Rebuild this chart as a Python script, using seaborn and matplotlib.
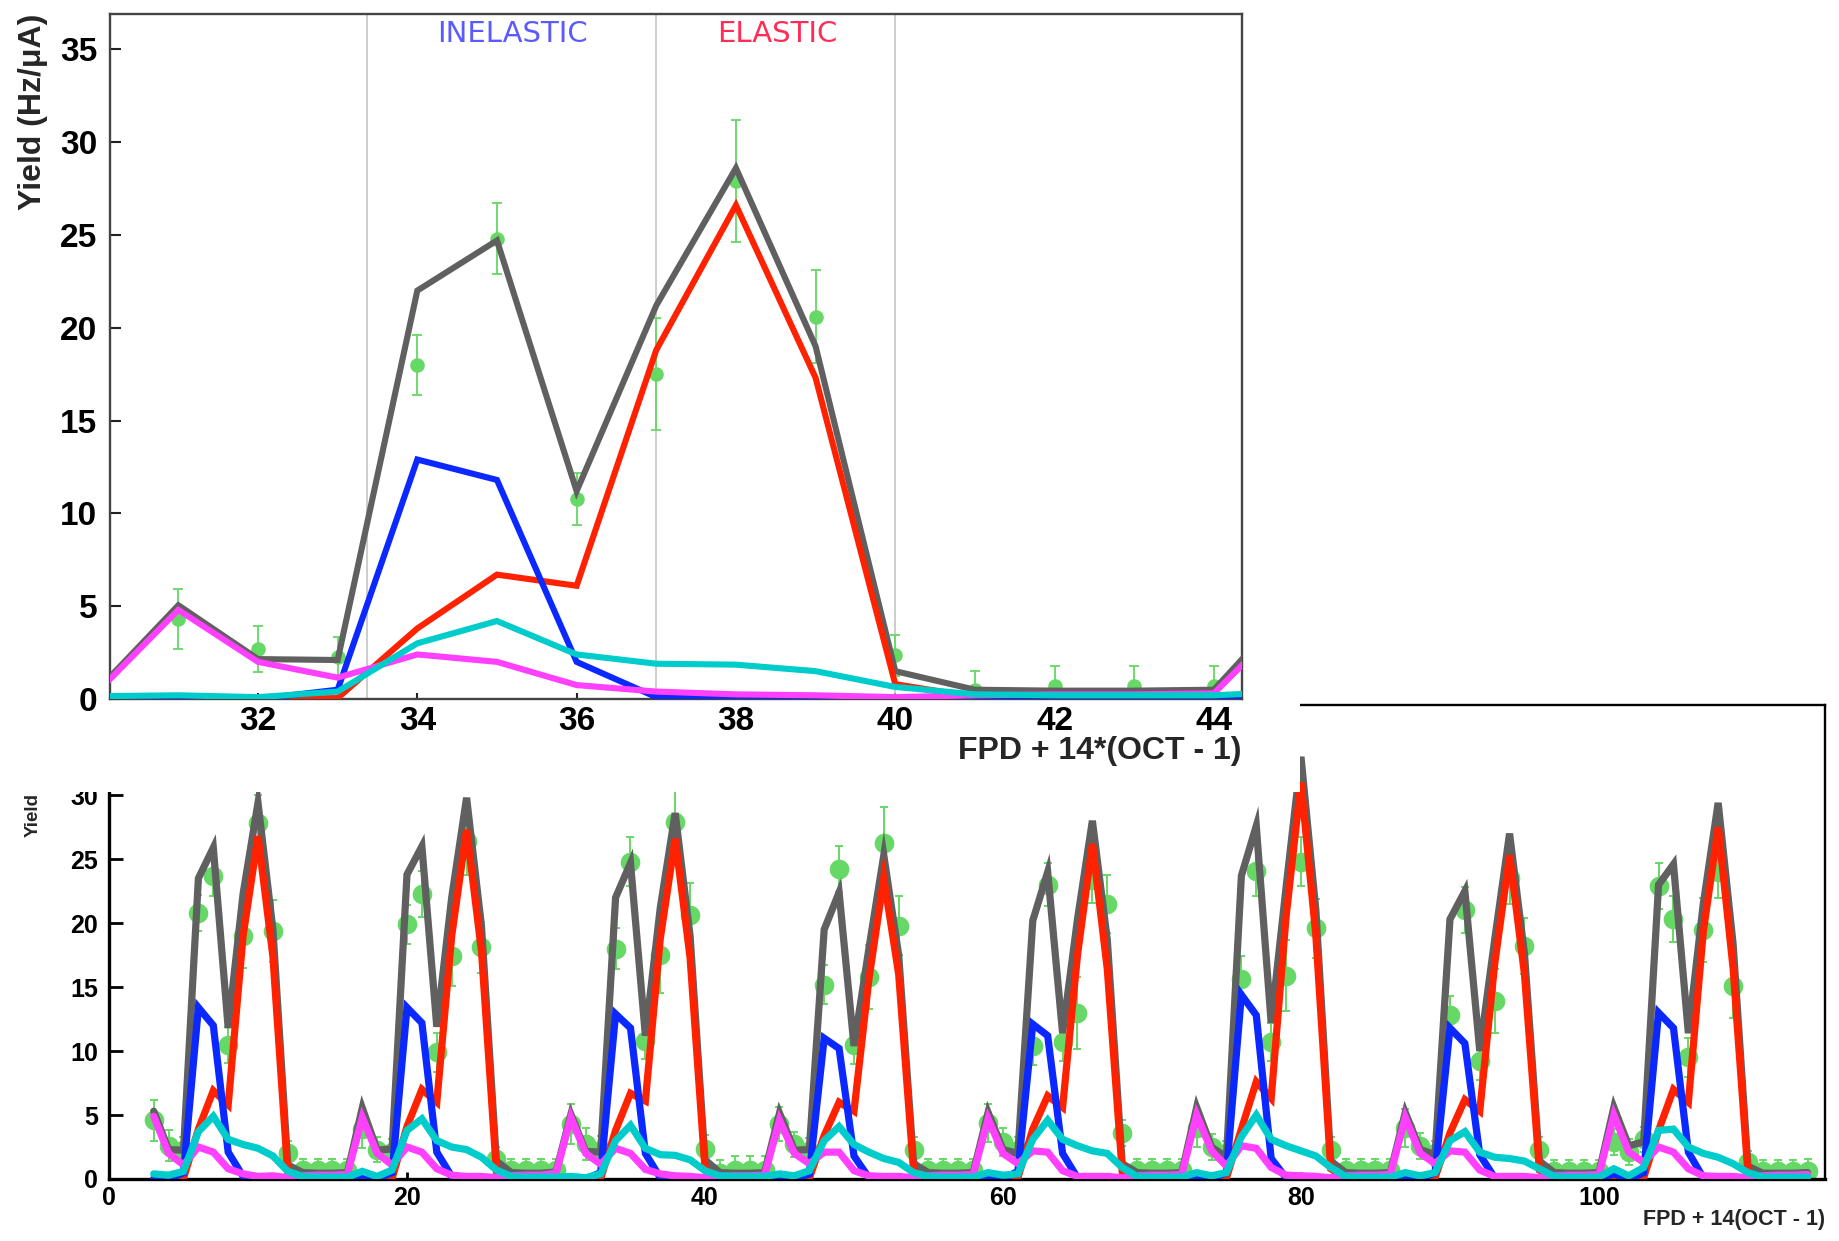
import matplotlib
matplotlib.use("Agg")
import matplotlib.pyplot as plt
import seaborn as sns
import pandas as pd
from matplotlib.patches import Rectangle

# ---------------- data ----------------
FPD = [3, 4, 5, 6, 7, 8, 9, 10, 11, 12, 13, 14, 15, 16]
OCTANTS = [1, 2, 3, 4, 5, 6, 7, 8]

# Total simulation (grey)
TOTAL = [
    [5.3, 2.3, 2.25, 23.5, 25.9, 11.8, 22.3, 29.4, 19.5, 1.1, 0.5, 0.45, 0.45, 0.5],
    [5.55, 2.25, 2.35, 23.8, 26.0, 11.9, 22.0, 29.8, 19.75, 1.4, 0.5, 0.45, 0.45, 0.55],
    [5.05, 2.15, 2.1, 22.0, 24.7, 11.2, 21.2, 28.6, 19.0, 1.5, 0.5, 0.45, 0.45, 0.5],
    [5.15, 2.25, 2.3, 19.5, 22.4, 10.4, 18.0, 25.3, 17.5, 1.2, 0.5, 0.45, 0.45, 0.5],
    [5.2, 2.3, 2.0, 20.2, 24.0, 11.4, 20.3, 28.0, 18.7, 1.2, 0.5, 0.45, 0.45, 0.5],
    [5.6, 2.5, 1.7, 23.7, 27.6, 12.2, 22.8, 33.0, 21.0, 1.4, 0.5, 0.45, 0.45, 0.5],
    [5.2, 2.3, 1.9, 20.3, 22.5, 10.0, 18.7, 27.0, 17.6, 1.4, 0.5, 0.45, 0.45, 0.5],
    [5.6, 2.6, 2.9, 23.0, 24.6, 11.4, 21.5, 29.4, 18.4, 1.0, 0.45, 0.45, 0.45, 0.5],
]
# Elastic (red)
ELASTIC = [
    [0.0, 0.0, 0.05, 3.9, 6.9, 5.8, 19.0, 26.8, 17.4, 0.4, 0.05, 0.0, 0.0, 0.0],
    [0.0, 0.0, 0.05, 4.1, 7.0, 6.0, 19.0, 27.3, 17.8, 0.6, 0.05, 0.0, 0.0, 0.0],
    [0.0, 0.0, 0.05, 3.8, 6.7, 6.1, 18.8, 26.6, 17.3, 0.8, 0.1, 0.0, 0.0, 0.0],
    [0.0, 0.0, 0.05, 3.4, 6.0, 5.3, 15.6, 23.5, 16.0, 0.6, 0.05, 0.0, 0.0, 0.0],
    [0.0, 0.0, 0.1, 3.9, 6.5, 5.6, 17.5, 26.2, 16.4, 0.6, 0.05, 0.0, 0.0, 0.0],
    [0.0, 0.0, 0.1, 3.9, 7.6, 6.3, 20.5, 31.0, 19.0, 0.8, 0.05, 0.0, 0.0, 0.0],
    [0.0, 0.0, 0.1, 3.6, 6.2, 5.3, 16.8, 25.3, 16.0, 0.7, 0.05, 0.0, 0.0, 0.0],
    [0.0, 0.0, 0.1, 3.8, 7.0, 6.0, 19.3, 27.5, 16.5, 0.4, 0.05, 0.0, 0.0, 0.0],
]
# Inelastic (blue)
INELASTIC = [
    [0.0, 0.0, 0.5, 13.4, 12.0, 2.1, 0.2, 0.05, 0.05, 0.0, 0.0, 0.0, 0.0, 0.0],
    [0.15, 0.05, 0.5, 13.4, 12.2, 2.1, 0.2, 0.05, 0.05, 0.0, 0.0, 0.0, 0.0, 0.0],
    [0.05, 0.0, 0.5, 12.9, 11.8, 2.0, 0.1, 0.0, 0.05, 0.05, 0.0, 0.0, 0.0, 0.0],
    [0.15, 0.0, 0.4, 11.0, 10.2, 1.8, 0.1, 0.05, 0.05, 0.0, 0.0, 0.0, 0.0, 0.0],
    [0.1, 0.0, 0.6, 12.1, 11.2, 2.0, 0.1, 0.05, 0.05, 0.0, 0.0, 0.0, 0.0, 0.0],
    [0.15, 0.0, 0.5, 14.4, 12.8, 1.6, 0.1, 0.05, 0.05, 0.0, 0.0, 0.0, 0.0, 0.0],
    [0.1, 0.0, 0.5, 11.8, 10.6, 1.9, 0.1, 0.05, 0.05, 0.0, 0.0, 0.0, 0.0, 0.0],
    [0.4, 0.0, 0.5, 13.0, 11.8, 2.1, 0.1, 0.05, 0.05, 0.0, 0.0, 0.0, 0.0, 0.0],
]
# Magenta component
MAGENTA = [
    [4.9, 2.0, 1.1, 2.5, 2.1, 0.8, 0.4, 0.2, 0.25, 0.1, 0.25, 0.3, 0.3, 0.35],
    [4.8, 2.0, 1.1, 2.5, 2.1, 0.8, 0.3, 0.2, 0.2, 0.1, 0.25, 0.3, 0.3, 0.45],
    [4.8, 2.0, 1.15, 2.4, 2.0, 0.75, 0.4, 0.25, 0.2, 0.1, 0.2, 0.25, 0.25, 0.3],
    [4.6, 2.0, 1.2, 2.1, 2.1, 0.65, 0.25, 0.2, 0.2, 0.1, 0.25, 0.3, 0.3, 0.35],
    [4.7, 2.0, 1.2, 2.2, 2.1, 0.65, 0.2, 0.2, 0.2, 0.1, 0.25, 0.3, 0.3, 0.35],
    [5.0, 2.2, 1.0, 2.6, 2.4, 0.9, 0.3, 0.25, 0.2, 0.1, 0.25, 0.3, 0.3, 0.35],
    [4.8, 2.0, 1.2, 2.2, 2.1, 0.7, 0.2, 0.2, 0.2, 0.1, 0.25, 0.3, 0.3, 0.35],
    [5.0, 2.1, 1.3, 2.5, 2.1, 0.8, 0.25, 0.2, 0.2, 0.1, 0.25, 0.3, 0.3, 0.35],
]
# Cyan component
CYAN = [
    [0.4, 0.3, 0.6, 3.7, 4.9, 3.1, 2.7, 2.4, 1.8, 0.6, 0.2, 0.15, 0.15, 0.15],
    [0.6, 0.2, 0.7, 3.8, 4.7, 3.0, 2.5, 2.3, 1.7, 0.7, 0.2, 0.15, 0.15, 0.15],
    [0.2, 0.1, 0.4, 3.0, 4.2, 2.4, 1.9, 1.85, 1.5, 0.65, 0.25, 0.2, 0.2, 0.2],
    [0.4, 0.25, 0.65, 3.0, 4.1, 2.7, 2.1, 1.6, 1.3, 0.5, 0.2, 0.15, 0.15, 0.15],
    [0.5, 0.3, 0.4, 3.1, 4.6, 3.1, 2.6, 2.2, 2.0, 0.9, 0.2, 0.15, 0.15, 0.15],
    [0.5, 0.25, 0.5, 3.3, 5.0, 3.1, 2.6, 2.2, 1.8, 0.9, 0.2, 0.15, 0.15, 0.15],
    [0.5, 0.25, 0.5, 3.0, 3.7, 2.1, 1.7, 1.6, 1.4, 0.8, 0.2, 0.15, 0.15, 0.15],
    [0.8, 0.25, 0.9, 3.8, 3.9, 2.5, 2.0, 1.7, 1.2, 0.5, 0.15, 0.15, 0.15, 0.15],
]
# Measured yield (green points) and errors
DATA = [
    [4.6, 2.6, 2.3, 20.8, 23.7, 10.5, 19.0, 27.8, 19.4, 2.0, 0.7, 0.7, 0.7, 0.7],
    [3.9, 2.3, 2.1, 19.9, 22.3, 9.9, 17.4, 26.4, 18.1, 1.6, 0.7, 0.7, 0.7, 0.7],
    [4.3, 2.7, 2.25, 18.0, 24.8, 10.8, 17.5, 27.9, 20.6, 2.35, 0.5, 0.7, 0.7, 0.7],
    [4.3, 2.7, 2.2, 15.2, 24.2, 10.5, 15.8, 26.3, 19.8, 2.3, 0.7, 0.7, 0.7, 0.7],
    [4.4, 2.9, 2.3, 10.4, 23.0, 10.7, 13.0, 23.4, 21.5, 3.6, 0.7, 0.7, 0.7, 0.7],
    [4.0, 2.5, 2.0, 15.6, 24.1, 10.7, 15.9, 24.8, 19.6, 2.3, 0.7, 0.7, 0.7, 0.7],
    [4.0, 2.6, 2.0, 12.8, 21.0, 9.2, 13.9, 23.5, 18.2, 2.3, 0.6, 0.6, 0.6, 0.6],
    [2.9, 2.1, 3.1, 22.9, 20.3, 9.5, 19.5, 24.0, 15.1, 1.3, 0.6, 0.6, 0.6, 0.65],
]
DATA_ERR = [
    [1.6, 1.2, 1.0, 1.4, 1.6, 1.4, 2.5, 2.2, 2.4, 1.0, 0.9, 0.9, 0.9, 0.9],
    [1.5, 1.0, 1.0, 1.5, 1.8, 1.5, 2.3, 2.6, 2.0, 0.9, 0.9, 0.9, 0.9, 0.9],
    [1.6, 1.25, 1.1, 1.6, 1.9, 1.4, 3.0, 3.3, 2.5, 1.1, 1.0, 1.1, 1.1, 1.1],
    [1.3, 1.0, 1.0, 1.5, 1.8, 1.5, 2.5, 2.8, 2.3, 1.0, 0.9, 0.9, 0.9, 0.9],
    [1.5, 1.1, 1.0, 1.5, 1.7, 1.5, 2.8, 1.8, 2.3, 1.0, 0.9, 0.9, 0.9, 0.9],
    [1.5, 1.0, 1.0, 1.8, 2.0, 1.5, 2.8, 1.9, 2.3, 1.0, 0.9, 0.9, 0.9, 0.9],
    [1.5, 1.0, 1.0, 1.5, 1.8, 1.5, 2.5, 2.0, 2.2, 1.0, 0.9, 0.9, 0.9, 0.9],
    [1.0, 1.0, 1.0, 1.8, 1.8, 1.5, 2.5, 2.0, 2.5, 0.9, 0.9, 0.9, 0.9, 0.9],
]
REGION_LINES = [33.37, 37.0, 40.0]
TOP_XTICKS = [32, 34, 36, 38, 40, 42, 44]
TOP_YTICKS = [0, 5, 10, 15, 20, 25, 30, 35]
BOT_XTICKS = [0, 20, 40, 60, 80, 100]
BOT_YTICKS = [0, 5, 10, 15, 20, 25, 30]

# ---------------- build tables ----------------
X = [f + 14 * (o - 1) for o in OCTANTS for f in FPD]


def flat(a):
    return [v for row in a for v in row]


SERIES = [("Total", TOTAL), ("Elastic", ELASTIC), ("Inelastic", INELASTIC),
          ("Magenta", MAGENTA), ("Cyan", CYAN)]
rows = []
for name, arr in SERIES:
    for xi, yi in zip(X, flat(arr)):
        rows.append({"x": xi, "yield": yi, "comp": name})
sim = pd.DataFrame(rows)
meas = pd.DataFrame({"x": X, "y": flat(DATA), "err": flat(DATA_ERR)})

PALETTE = {"Total": "#606060", "Elastic": "#ff2200", "Inelastic": "#0a28ff",
           "Magenta": "#ff40ff", "Cyan": "#00cccc"}
HUE_ORDER = ["Total", "Elastic", "Inelastic", "Magenta", "Cyan"]
GREEN = "#66d866"

sns.set_theme(style="white")
plt.rcParams["font.family"] = ["Liberation Sans", "DejaVu Sans"]
plt.rcParams["font.weight"] = "bold"

W, H = 1839, 1241
fig = plt.figure(figsize=(W / 100, H / 100), dpi=100)
fig.patch.set_facecolor("white")


def fx(px):
    return px / W


def fy(py):
    return 1 - py / H


# ---------------- bottom (overview) axes ----------------
axb = fig.add_axes([fx(109), fy(1179), fx(1825) - fx(109), fy(705) - fy(1179)])
axb.set_zorder(0)
axb.set_facecolor("white")
axb.errorbar(meas["x"], meas["y"], yerr=meas["err"], fmt="none", ecolor=GREEN,
             elinewidth=1.4, capsize=2.8, capthick=1.4, zorder=1.5)
sns.scatterplot(data=meas, x="x", y="y", color=GREEN, s=200, linewidth=0,
                ax=axb, zorder=1.6, legend=False)
sns.lineplot(data=sim, x="x", y="yield", hue="comp", hue_order=HUE_ORDER,
             palette=PALETTE, estimator=None, sort=False, legend=False,
             linewidth=5.2, solid_joinstyle="miter", ax=axb, zorder=3)
axb.set_xlim(0, 115.17)
axb.set_ylim(0, 37.05)
axb.set_xticks(BOT_XTICKS)
axb.set_yticks(BOT_YTICKS)
axb.set_xlabel("")
axb.set_ylabel("")
axb.tick_params(axis="y", direction="in", length=10, width=2, labelsize=18,
                pad=8, colors="black", left=True)
axb.tick_params(axis="x", direction="in", length=5, width=2, labelsize=18,
                pad=5, colors="black", bottom=True)
for lab in axb.get_xticklabels() + axb.get_yticklabels():
    lab.set_fontweight("bold")
for side in ["left", "bottom"]:
    axb.spines[side].set_linewidth(2.4)
    axb.spines[side].set_color("black")
for side in ["top", "right"]:
    axb.spines[side].set_linewidth(1.7)
    axb.spines[side].set_color("black")

# white pad of the zoomed panel, covering part of the overview
fig.add_artist(Rectangle((0, fy(792)), fx(1300), 1 - fy(792), transform=fig.transFigure,
                         facecolor="white", edgecolor="none", zorder=1))

# ---------------- top (zoomed octant) axes ----------------
axt = fig.add_axes([fx(110), fy(699), fx(1242) - fx(110), fy(14) - fy(699)])
axt.set_zorder(2)
axt.set_facecolor("white")
for xv in REGION_LINES:
    axt.axvline(xv, color="#c0c0c0", lw=1.1, zorder=1)
axt.errorbar(meas["x"], meas["y"], yerr=meas["err"], fmt="none", ecolor=GREEN,
             elinewidth=1.3, capsize=3.5, capthick=1.3, zorder=1.5)
sns.scatterplot(data=meas, x="x", y="y", color=GREEN, s=110, linewidth=0,
                ax=axt, zorder=1.6, legend=False)
sns.lineplot(data=sim, x="x", y="yield", hue="comp", hue_order=HUE_ORDER,
             palette=PALETTE, estimator=None, sort=False, legend=False,
             linewidth=4.4, solid_joinstyle="miter", ax=axt, zorder=3)
axt.set_xlim(30.142, 44.353)
axt.set_ylim(0, 36.9)
axt.set_xticks(TOP_XTICKS)
axt.set_yticks(TOP_YTICKS)
axt.set_xlabel("")
axt.set_ylabel("")
axt.tick_params(axis="y", direction="in", length=8, width=1.5, labelsize=24,
                pad=9, colors="#222222", labelcolor="black", left=True)
axt.tick_params(axis="x", direction="in", length=4.5, width=1.5, labelsize=24,
                pad=5, colors="#222222", labelcolor="black", bottom=True)
for lab in axt.get_xticklabels() + axt.get_yticklabels():
    lab.set_fontweight("bold")
for side in ["left", "bottom", "top", "right"]:
    axt.spines[side].set_linewidth(1.7)
    axt.spines[side].set_color("#444444")

axt.text(35.19, 35.8, "INELASTIC", color="#5a5aff", fontsize=21, ha="center",
         va="center", family=["DejaVu Sans"], fontweight="normal", zorder=5)
axt.text(38.52, 35.8, "ELASTIC", color="#ff2d55", fontsize=21, ha="center",
         va="center", family=["DejaVu Sans"], fontweight="normal", zorder=5)

# ---------------- axis titles ----------------
fig.text(fx(1242), fy(751), "FPD + 14*(OCT - 1)", ha="right", va="center",
         fontsize=23, fontweight="bold", zorder=5)
fig.text(fx(33), fy(14), "Yield (Hz/\u03bcA)", rotation=90, ha="center", va="top",
         fontsize=23, fontweight="bold", zorder=5)
fig.text(fx(1825), fy(1220), "FPD + 14(OCT - 1)", ha="right", va="center",
         fontsize=15.5, fontweight="bold", zorder=5)
fig.text(fx(33), fy(793), "Yield", rotation=90, ha="center", va="top",
         fontsize=13.5, fontweight="bold", zorder=5)

fig.savefig("out.png", dpi=100, facecolor="white")
